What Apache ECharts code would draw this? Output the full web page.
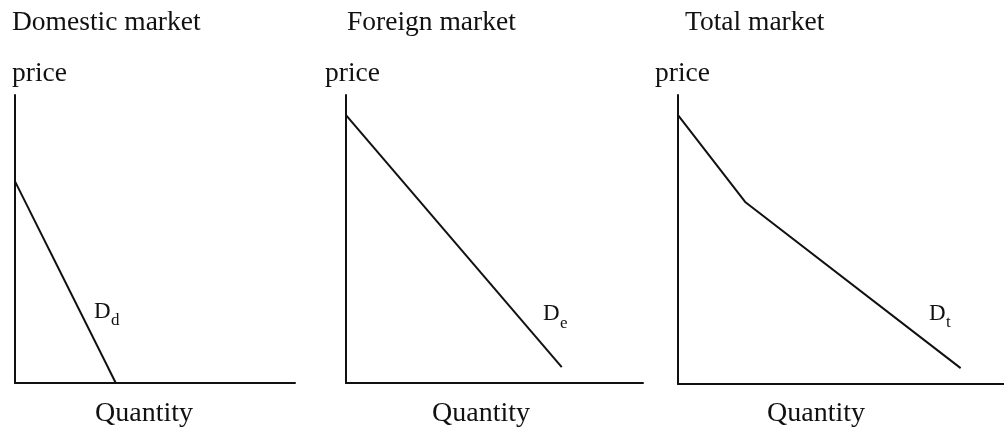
<!DOCTYPE html>
<html>
<head>
<meta charset="utf-8">
<script src="https://cdn.jsdelivr.net/npm/echarts@6/dist/echarts.min.js"></script>
<style>
  html, body { margin: 0; padding: 0; background: #fff; }
  #main { width: 1004px; height: 432px; }
</style>
</head>
<body>
<div id="main"></div>
<script>
// demand curves, quantity on x, price on y (price axis runs 0..10)
var domesticQty = [0, 3.6];
var domesticPrice = [7.0, 0];
var foreignQty = [0, 7.7];
var foreignPrice = [9.3, 0.55];
var totalQty = [0, 2.4, 10.1];
var totalPrice = [9.3, 6.3, 0.55];

var panelTitles = ['Domestic market', 'Foreign market', 'Total market'];
var curveNames = ['d', 'e', 't'];
var qtyMax = [10, 10.6, 11.65];
var priceMax = 10;

var FONT = '"Liberation Serif", "Times New Roman", serif';
var INK = '#111';

function pairs(xs, ys) {
    return xs.map(function (x, i) { return [x, ys[i]]; });
}

var grids = [
    { left: 15, top: 95, width: 280, height: 288 },
    { left: 346, top: 95, width: 297, height: 288 },
    { left: 678, top: 95, width: 326, height: 289 }
];

var axisCommon = {
    type: 'value',
    axisLine: { show: true, lineStyle: { color: INK, width: 2 } },
    axisTick: { show: false },
    axisLabel: { show: false },
    splitLine: { show: false }
};

var xAxes = [], yAxes = [], series = [];
var curves = [pairs(domesticQty, domesticPrice), pairs(foreignQty, foreignPrice), pairs(totalQty, totalPrice)];
grids.forEach(function (g, i) {
    xAxes.push(Object.assign({ gridIndex: i, min: 0, max: qtyMax[i] }, axisCommon));
    yAxes.push(Object.assign({ gridIndex: i, min: 0, max: priceMax }, axisCommon));
    series.push({
        type: 'line',
        name: 'D' + curveNames[i],
        xAxisIndex: i,
        yAxisIndex: i,
        data: curves[i],
        symbol: 'none',
        silent: true,
        lineStyle: { color: INK, width: 2 }
    });
});

// text labels
function txt(x, y, s, size) {
    return {
        type: 'text',
        x: x,
        y: y,
        style: {
            text: s,
            font: size + 'px ' + FONT,
            fill: INK,
            textAlign: 'left',
            textVerticalAlign: 'middle'
        }
    };
}

var titleX = [12, 347, 685];
var priceX = [12, 325, 655];
var qtyX = [95, 432, 767];
var dX = [94, 543, 929];
var dY = [312, 314, 314];
var subY = [321, 324, 323];

var graphics = [];
for (var i = 0; i < 3; i++) {
    graphics.push(txt(titleX[i], 23, panelTitles[i], 27.5));
    graphics.push(txt(priceX[i], 74, 'price', 27.5));
    graphics.push(txt(qtyX[i], 414, 'Quantity', 28));
    graphics.push(txt(dX[i], dY[i], 'D', 23));
    graphics.push(txt(dX[i] + 17, subY[i], curveNames[i], 17));
}

var myChart = echarts.init(document.getElementById('main'));
myChart.setOption({
    animation: false,
    backgroundColor: '#fff',
    grid: grids,
    xAxis: xAxes,
    yAxis: yAxes,
    series: series,
    graphic: graphics
});
</script>
</body>
</html>
